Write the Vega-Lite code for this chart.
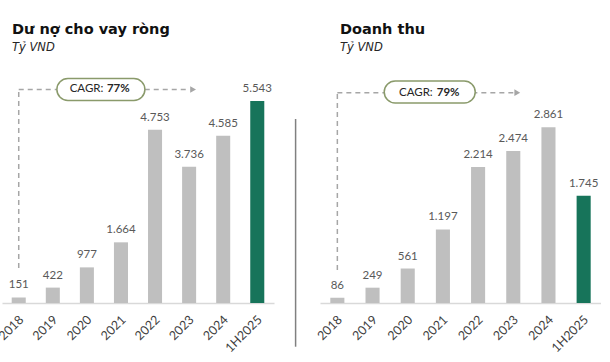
{
  "$schema": "https://vega.github.io/schema/vega-lite/v6.json",
  "padding": {"left": -4, "top": 22, "right": 0, "bottom": 0},
  "bounds": "flush",
  "spacing": 46,
  "config": {
    "view": {"stroke": null},
    "locale": {"number": {"decimal": ",", "thousands": ".", "grouping": [3], "currency": ["", ""]}},
    "title": {"anchor": "start", "frame": "group", "font": "DejaVu Sans", "fontSize": 14.5, "fontWeight": "bold", "color": "#111111", "subtitleFont": "DejaVu Sans", "subtitleFontSize": 11.5, "subtitleFontStyle": "italic", "subtitleColor": "#262626", "subtitlePadding": 4, "offset": 6}
  },
  "hconcat": [
    {
      "width": 272,
      "height": 243,
      "title": {"text": "Dư nợ cho vay ròng", "subtitle": "Tỷ VND", "dx": 10},
      "data": {"values": [
        {"p": "2018", "v": 151},
        {"p": "2019", "v": 422},
        {"p": "2020", "v": 977},
        {"p": "2021", "v": 1664},
        {"p": "2022", "v": 4753},
        {"p": "2023", "v": 3736},
        {"p": "2024", "v": 4585},
        {"p": "1H2025", "v": 5543}
      ]},
      "encoding": {
        "x": {"field": "p", "type": "nominal", "sort": null,
          "scale": {"domain": ["2018", "2019", "2020", "2021", "2022", "2023", "2024", "1H2025"], "paddingInner": 0.588, "paddingOuter": 0.285},
          "axis": {"title": null, "labelAngle": -45, "labelFont": "Lato", "labelFontSize": 12.5, "labelColor": "#404040", "ticks": false, "domainColor": "#D9D9D9", "domainWidth": 1.5, "labelPadding": 10, "labelOffset": -1.5, "grid": false}
        }
      },
      "layer": [
        {
          "mark": {"type": "bar"},
          "encoding": {
            "y": {"field": "v", "type": "quantitative", "scale": {"domain": [0, 6665], "nice": false, "zero": true}, "axis": null},
            "color": {"condition": {"test": "datum.p === '1H2025'", "value": "#17745A"}, "value": "#BFBFBF"}
          }
        },
        {
          "mark": {"type": "text", "font": "Lato", "fontSize": 11.5, "color": "#595959", "baseline": "alphabetic", "dy": -9},
          "encoding": {
            "y": {"field": "v", "type": "quantitative"},
            "text": {"field": "v", "type": "quantitative", "format": ",d"}
          }
        },
        {
          "data": {"values": [{"x": "2018", "y": 960, "y2": 5856}]},
          "mark": {"type": "rule", "color": "#A6A6A6", "strokeWidth": 1.5, "strokeDash": [5, 4]},
          "encoding": {"x": {"field": "x", "type": "nominal"}, "y": {"field": "y", "type": "quantitative"}, "y2": {"field": "y2"}}
        },
        {
          "data": {"values": [{"x": "2018", "x2": "2023", "y": 5856}]},
          "mark": {"type": "rule", "color": "#A6A6A6", "strokeWidth": 1.5, "strokeDash": [5, 4]},
          "encoding": {"x": {"field": "x", "type": "nominal"}, "x2": {"field": "x2"}, "y": {"field": "y", "type": "quantitative"}}
        },
        {
          "data": {"values": [{"x": "2023", "y": 5856}]},
          "mark": {"type": "point", "shape": "triangle-right", "filled": true, "color": "#A6A6A6", "size": 45, "opacity": 1, "xOffset": 4},
          "encoding": {"x": {"field": "x", "type": "nominal"}, "y": {"field": "y", "type": "quantitative"}}
        },
        {
          "data": {"values": [{"x": "2020", "y": 6157, "y2": 5554}]},
          "mark": {"type": "bar", "width": 88, "cornerRadius": 11, "fill": "white", "stroke": "#8A9A6B", "strokeWidth": 1.5, "xOffset": 14},
          "encoding": {"x": {"field": "x", "type": "nominal"}, "y": {"field": "y", "type": "quantitative"}, "y2": {"field": "y2"}}
        },
        {
          "data": {"values": [{"x": "2020", "y": 5856, "t": "CAGR:"}]},
          "mark": {"type": "text", "font": "Lato", "fontSize": 11.5, "color": "#262626", "align": "right", "baseline": "middle", "xOffset": 16.5},
          "encoding": {"x": {"field": "x", "type": "nominal"}, "y": {"field": "y", "type": "quantitative"}, "text": {"field": "t"}}
        },
        {
          "data": {"values": [{"x": "2020", "y": 5856, "t": "77%"}]},
          "mark": {"type": "text", "font": "Lato", "fontSize": 11.5, "fontWeight": "bold", "color": "#262626", "align": "left", "baseline": "middle", "xOffset": 20},
          "encoding": {"x": {"field": "x", "type": "nominal"}, "y": {"field": "y", "type": "quantitative"}, "text": {"field": "t"}}
        },
        {
          "data": {"values": [{"x": "1H2025", "y": 5047, "y2": -1199}]},
          "mark": {"type": "rule", "color": "#808080", "strokeWidth": 1.5},
          "encoding": {"x": {"field": "x", "type": "nominal", "bandPosition": 3.23}, "y": {"field": "y", "type": "quantitative"}, "y2": {"field": "y2"}}
        }
      ]
    },
    {
      "width": 281,
      "height": 243,
      "title": {"text": "Doanh thu", "subtitle": "Tỷ VND", "dx": 20},
      "data": {"values": [
        {"p": "2018", "v": 86},
        {"p": "2019", "v": 249},
        {"p": "2020", "v": 561},
        {"p": "2021", "v": 1197},
        {"p": "2022", "v": 2214},
        {"p": "2023", "v": 2474},
        {"p": "2024", "v": 2861},
        {"p": "1H2025", "v": 1745}
      ]},
      "encoding": {
        "x": {"field": "p", "type": "nominal", "sort": null,
          "scale": {"domain": ["2018", "2019", "2020", "2021", "2022", "2023", "2024", "1H2025"], "paddingInner": 0.6, "paddingOuter": 0.293},
          "axis": {"title": null, "labelAngle": -45, "labelFont": "Lato", "labelFontSize": 12.5, "labelColor": "#404040", "ticks": false, "domainColor": "#D9D9D9", "domainWidth": 1.5, "labelPadding": 10, "labelOffset": -1.5, "grid": false}
        }
      },
      "layer": [
        {
          "mark": {"type": "bar"},
          "encoding": {
            "y": {"field": "v", "type": "quantitative", "scale": {"domain": [0, 3953], "nice": false, "zero": true}, "axis": null},
            "color": {"condition": {"test": "datum.p === '1H2025'", "value": "#17745A"}, "value": "#BFBFBF"}
          }
        },
        {
          "mark": {"type": "text", "font": "Lato", "fontSize": 11.5, "color": "#595959", "baseline": "alphabetic", "dy": -9},
          "encoding": {
            "y": {"field": "v", "type": "quantitative"},
            "text": {"field": "v", "type": "quantitative", "format": ",d"}
          }
        },
        {
          "data": {"values": [{"x": "2018", "y": 537, "y2": 3421}]},
          "mark": {"type": "rule", "color": "#A6A6A6", "strokeWidth": 1.5, "strokeDash": [5, 4]},
          "encoding": {"x": {"field": "x", "type": "nominal"}, "y": {"field": "y", "type": "quantitative"}, "y2": {"field": "y2"}}
        },
        {
          "data": {"values": [{"x": "2018", "x2": "2023", "y": 3421}]},
          "mark": {"type": "rule", "color": "#A6A6A6", "strokeWidth": 1.5, "strokeDash": [5, 4]},
          "encoding": {"x": {"field": "x", "type": "nominal"}, "x2": {"field": "x2"}, "y": {"field": "y", "type": "quantitative"}}
        },
        {
          "data": {"values": [{"x": "2023", "y": 3421}]},
          "mark": {"type": "point", "shape": "triangle-right", "filled": true, "color": "#A6A6A6", "size": 45, "opacity": 1, "xOffset": 4},
          "encoding": {"x": {"field": "x", "type": "nominal"}, "y": {"field": "y", "type": "quantitative"}}
        },
        {
          "data": {"values": [{"x": "2020", "y": 3612, "y2": 3254}]},
          "mark": {"type": "bar", "width": 91, "cornerRadius": 11, "fill": "white", "stroke": "#8A9A6B", "strokeWidth": 1.5, "xOffset": 22},
          "encoding": {"x": {"field": "x", "type": "nominal"}, "y": {"field": "y", "type": "quantitative"}, "y2": {"field": "y2"}}
        },
        {
          "data": {"values": [{"x": "2020", "y": 3421, "t": "CAGR:"}]},
          "mark": {"type": "text", "font": "Lato", "fontSize": 11.5, "color": "#262626", "align": "right", "baseline": "middle", "xOffset": 25},
          "encoding": {"x": {"field": "x", "type": "nominal"}, "y": {"field": "y", "type": "quantitative"}, "text": {"field": "t"}}
        },
        {
          "data": {"values": [{"x": "2020", "y": 3421, "t": "79%"}]},
          "mark": {"type": "text", "font": "Lato", "fontSize": 11.5, "fontWeight": "bold", "color": "#262626", "align": "left", "baseline": "middle", "xOffset": 29},
          "encoding": {"x": {"field": "x", "type": "nominal"}, "y": {"field": "y", "type": "quantitative"}, "text": {"field": "t"}}
        }
      ]
    }
  ]
}
